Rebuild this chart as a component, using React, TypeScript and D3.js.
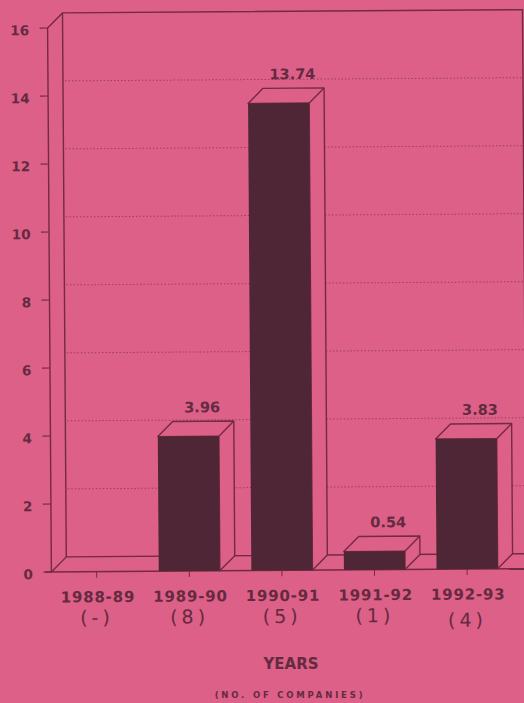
import React from "react";
import * as d3 from "d3";

const categories = ["1988-89", "1989-90", "1990-91", "1991-92", "1992-93"];
const companies = ["(-)", "(8)", "(5)", "(1)", "(4)"];
const values = [0, 3.96, 13.74, 0.54, 3.83];
const yTicks = [0, 2, 4, 6, 8, 10, 12, 14, 16];
// Hand-lettered company counts sit a little off the printed label line.
const companyDrop = [0, 0, 0, 0, 5];

const W = 524;
const H = 703;
const PINK = "#dc6088";
const INK = "#742a42";
const BAR = "#4e2635";
const TEXT = "#652a40";
const FONT = "'DejaVu Sans', Verdana, sans-serif";

const x0 = 49.5;
const xEnd = 524.5;
const depth = 15;

const y = d3.scaleLinear().domain([0, 16]).range([570.5, 26.5]);
const x = d3.scaleBand<string>().domain(categories).range([48.5, 511.5]).paddingInner(0.34).paddingOuter(0.17);

export default function App() {
  const top = y(16) - depth;
  const floor = y(0) - depth;
  const bw = x.bandwidth();
  return (
    <svg
      width={W}
      height={H}
      viewBox={`0 0 ${W} ${H}`}
      style={{ position: "fixed", left: 0, top: 0, background: PINK, display: "block" }}
      fontFamily={FONT}
    >
      <rect width={W} height={H} fill={PINK} />
      <g transform="rotate(-0.4 262 300)">
        {/* Back wall and floor of the 3D box */}
        <g fill="none" stroke={INK} strokeWidth={1.4}>
          <path d={`M${x0},${y(0)} V${y(16)} L${x0 + depth},${top} H${xEnd} V${floor}`} />
          <path d={`M${x0 + depth},${top} V${floor} H${xEnd + 6}`} />
          <path d={`M${x0},${y(0)} L${x0 + depth},${floor}`} />
          <path d={`M${x0 - 6},${y(0)} H${xEnd + 6}`} />
        </g>

        {/* Dotted gridlines on the back wall */}
        {yTicks.slice(1, -1).map((t) => (
          <line
            key={t}
            x1={x0 + depth + 2}
            x2={xEnd}
            y1={y(t) - depth}
            y2={y(t) - depth}
            stroke={INK}
            strokeWidth={1}
            strokeDasharray="1.5 2"
            opacity={0.6}
          />
        ))}

        {/* Left axis ticks and labels */}
        {yTicks.map((t) => (
          <g key={t}>
            <line x1={x0 - 8} x2={x0} y1={y(t)} y2={y(t)} stroke={INK} strokeWidth={1.2} />
            <text x={31} y={y(t) + 7} textAnchor="end" fontSize={13.5} fontWeight={700} fill={TEXT}>
              {t}
            </text>
          </g>
        ))}

        {/* Category ticks and labels */}
        {categories.map((c, i) => {
          const cx = (x(c) as number) + bw / 2;
          return (
            <g key={c}>
              <line x1={cx} x2={cx} y1={y(0)} y2={y(0) + 6} stroke={INK} strokeWidth={1} />
              <text x={cx + 1} y={601} textAnchor="middle" fontSize={15} fontWeight={700} fill={TEXT} letterSpacing={0.8}>
                {c}
              </text>
              <text
                x={cx}
                y={623 + companyDrop[i]}
                textAnchor="middle"
                fontSize={19}
                fill={TEXT}
                letterSpacing={4}
              >
                {companies[i]}
              </text>
            </g>
          );
        })}

        {/* Bars with top and side faces */}
        {categories.map((c, i) => {
          const v = values[i];
          if (v === 0) return null;
          const l = x(c) as number;
          const r = l + bw;
          const t = y(v);
          const b = y(0);
          return (
            <g key={c}>
              <path
                d={`M${l},${t} L${l + depth},${t - depth} H${r + depth} V${b - depth} L${r},${b} V${t} Z`}
                fill={PINK}
                stroke={INK}
                strokeWidth={1.4}
                strokeLinejoin="round"
              />
              <path d={`M${r},${t} L${r + depth},${t - depth}`} stroke={INK} strokeWidth={1.4} />
              <rect x={l} y={t} width={bw} height={b - t} fill={BAR} />
              <text
                x={(l + r) / 2 + 14}
                y={t - depth - 9}
                textAnchor="middle"
                fontSize={14.5}
                fontWeight={700}
                fill={TEXT}
              >
                {v.toFixed(2)}
              </text>
            </g>
          );
        })}
      </g>

      <text x={291} y={669} textAnchor="middle" fontSize={15} fontWeight={700} fill={TEXT}>
        YEARS
      </text>
      <text x={290} y={698} textAnchor="middle" fontSize={8.5} fontWeight={700} fill={TEXT} letterSpacing={2.8}>
        (NO. OF COMPANIES)
      </text>
    </svg>
  );
}
